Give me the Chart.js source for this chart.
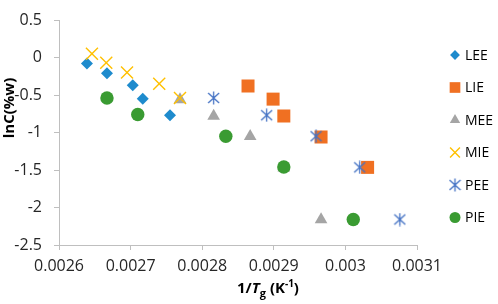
<!DOCTYPE html>
<html>
<head>
<meta charset="utf-8">
<script src="https://cdn.jsdelivr.net/npm/chart.js@4"></script>
<style>
  html, body { margin: 0; padding: 0; background: #fff; }
  #wrap { width: 498px; height: 304px; }
</style>
</head>
<body>
<div id="wrap"><canvas id="chart"></canvas></div>
<script>
// Data definitions (x = 1/Tg, y = lnC(%w))
const seriesNames = ['LEE', 'LIE', 'MEE', 'MIE', 'PEE', 'PIE'];
const leeX = [0.002639, 0.002667, 0.002703, 0.002717, 0.002755];
const leeY = [-0.08, -0.21, -0.37, -0.55, -0.77];
const lieX = [0.002864, 0.002899, 0.002914, 0.002966, 0.003031];
const lieY = [-0.38, -0.555, -0.78, -1.06, -1.465];
const meeX = [0.002769, 0.002816, 0.002867, 0.002914, 0.002966];
const meeY = [-0.56, -0.78, -1.05, -1.47, -2.16];
const mieX = [0.002646, 0.002666, 0.002695, 0.00274, 0.002769];
const mieY = [0.05, -0.07, -0.2, -0.35, -0.54];
const peeX = [0.002816, 0.00289, 0.002959, 0.00302, 0.003076];
const peeY = [-0.54, -0.77, -1.05, -1.465, -2.16];
const pieX = [0.002667, 0.00271, 0.002833, 0.002914, 0.003011];
const pieY = [-0.54, -0.76, -1.05, -1.46, -2.16];

const xTicks = [0.0026, 0.0027, 0.0028, 0.0029, 0.003, 0.0031];
const yTicks = [0.5, 0, -0.5, -1, -1.5, -2, -2.5];

const colors = ['#1E8BCD', '#F07022', '#A5A5A5', '#FFC000', '#4472C4', '#3A9B32'];

// Asterisk marker (X with vertical bar) for PEE
function makeAsterisk(color) {
  const c = document.createElement('canvas');
  c.width = 13; c.height = 14;
  const g = c.getContext('2d');
  g.strokeStyle = color;
  g.lineWidth = 1.3;
  g.beginPath();
  g.moveTo(6.5, 0.5); g.lineTo(6.5, 13.5);
  g.moveTo(1, 2); g.lineTo(12, 12);
  g.moveTo(12, 2); g.lineTo(1, 12);
  g.stroke();
  return c;
}
const asterisk = makeAsterisk(colors[4]);

function pts(xs, ys) {
  return xs.map((x, i) => ({ x: x, y: ys[i] }));
}

const datasets = [
  { label: 'LEE', data: pts(leeX, leeY), pointStyle: 'rectRot', pointRadius: 6, borderWidth: 0, order: 6 },
  { label: 'LIE', data: pts(lieX, lieY), pointStyle: 'rect', pointRadius: 9.2, borderWidth: 0, order: 5 },
  { label: 'MEE', data: pts(meeX, meeY), pointStyle: 'triangle', pointRadius: 7.3, borderWidth: 0, order: 4 },
  { label: 'MIE', data: pts(mieX, mieY), pointStyle: 'crossRot', pointRadius: 8.5, borderWidth: 1.4, order: 3 },
  { label: 'PEE', data: pts(peeX, peeY), pointStyle: asterisk, pointRadius: 7, borderWidth: 0, order: 2 },
  { label: 'PIE', data: pts(pieX, pieY), pointStyle: 'circle', pointRadius: 6.7, borderWidth: 0, order: 1 }
].map((d, i) => Object.assign(d, {
  backgroundColor: colors[i],
  borderColor: colors[i],
  pointBorderWidth: d.borderWidth,
  pointHoverRadius: d.pointRadius
}));

// Titles and legend drawn by a small plugin
const extrasPlugin = {
  id: 'extras',
  afterDraw(chart) {
    const ctx = chart.ctx;
    ctx.save();
    ctx.fillStyle = '#000';

    // y title
    ctx.save();
    ctx.translate(10, 108);
    ctx.rotate(-Math.PI / 2);
    ctx.font = 'bold 15px "Open Sans"';
    ctx.textAlign = 'center';
    ctx.textBaseline = 'middle';
    ctx.fillText('lnC(%w)', 0, 0);
    ctx.restore();

    // x title: 1/Tg (K-1)
    const parts = [
      { t: '1/', f: 'bold 15px "Open Sans"', dy: 0 },
      { t: 'T', f: 'italic bold 15px "Open Sans"', dy: 0 },
      { t: 'g', f: 'bold 11px "Open Sans"', dy: 4 },
      { t: ' (K', f: 'bold 15px "Open Sans"', dy: 0 },
      { t: '-1', f: 'bold 10px "Open Sans"', dy: -6 },
      { t: ')', f: 'bold 15px "Open Sans"', dy: 0 }
    ];
    let total = 0;
    parts.forEach(p => { ctx.font = p.f; p.w = ctx.measureText(p.t).width; total += p.w; });
    let x = 268 - total / 2;
    ctx.textAlign = 'left';
    ctx.textBaseline = 'alphabetic';
    parts.forEach(p => { ctx.font = p.f; ctx.fillText(p.t, x, 293 + p.dy); x += p.w; });

    // legend
    ctx.font = '14px "Open Sans"';
    ctx.textBaseline = 'middle';
    chart.data.datasets.forEach((ds, i) => {
      const y = 55 + i * 32.5;
      ctx.fillStyle = ds.backgroundColor;
      ctx.strokeStyle = ds.borderColor;
      ctx.lineWidth = ds.pointBorderWidth;
      Chart.helpers.drawPoint(ctx, {
        pointStyle: ds.pointStyle,
        radius: ds.pointRadius * 0.82,
        rotation: 0,
        borderWidth: ds.pointBorderWidth
      }, 455, y);
      ctx.fillStyle = '#000';
      ctx.fillText(ds.label, 465, y + 1);
    });
    ctx.restore();
  }
};

const axisGrey = '#BFBFBF';
const tickFont = { family: '"Open Sans"', size: 16, lineHeight: 1.0 };

new Chart(document.getElementById('chart').getContext('2d'), {
  type: 'scatter',
  data: { datasets: datasets },
  options: {
    responsive: true,
    maintainAspectRatio: false,
    animation: false,
    layout: { padding: { left: 0, right: 81, top: 0, bottom: 0 } },
    plugins: {
      legend: { display: false },
      tooltip: { enabled: false }
    },
    scales: {
      x: {
        type: 'linear',
        min: 0.0026,
        max: 0.0031,
        afterFit: s => { s.height = 59; },
        afterBuildTicks: s => { s.ticks = xTicks.map(v => ({ value: v })); },
        ticks: {
          font: tickFont,
          color: '#262626',
          padding: 8,
          maxRotation: 0,
          callback: v => String(+v.toFixed(4))
        },
        grid: { drawOnChartArea: false, color: axisGrey, tickLength: 5 },
        border: { color: axisGrey }
      },
      y: {
        type: 'linear',
        min: -2.5,
        max: 0.5,
        afterFit: s => { s.width = 59; },
        afterBuildTicks: s => { s.ticks = yTicks.map(v => ({ value: v })); },
        ticks: {
          font: tickFont,
          color: '#262626',
          padding: 12,
          callback: v => String(+v.toFixed(1))
        },
        grid: { drawOnChartArea: false, color: axisGrey, tickLength: 5 },
        border: { color: axisGrey }
      }
    }
  },
  plugins: [extrasPlugin]
});
</script>
</body>
</html>
